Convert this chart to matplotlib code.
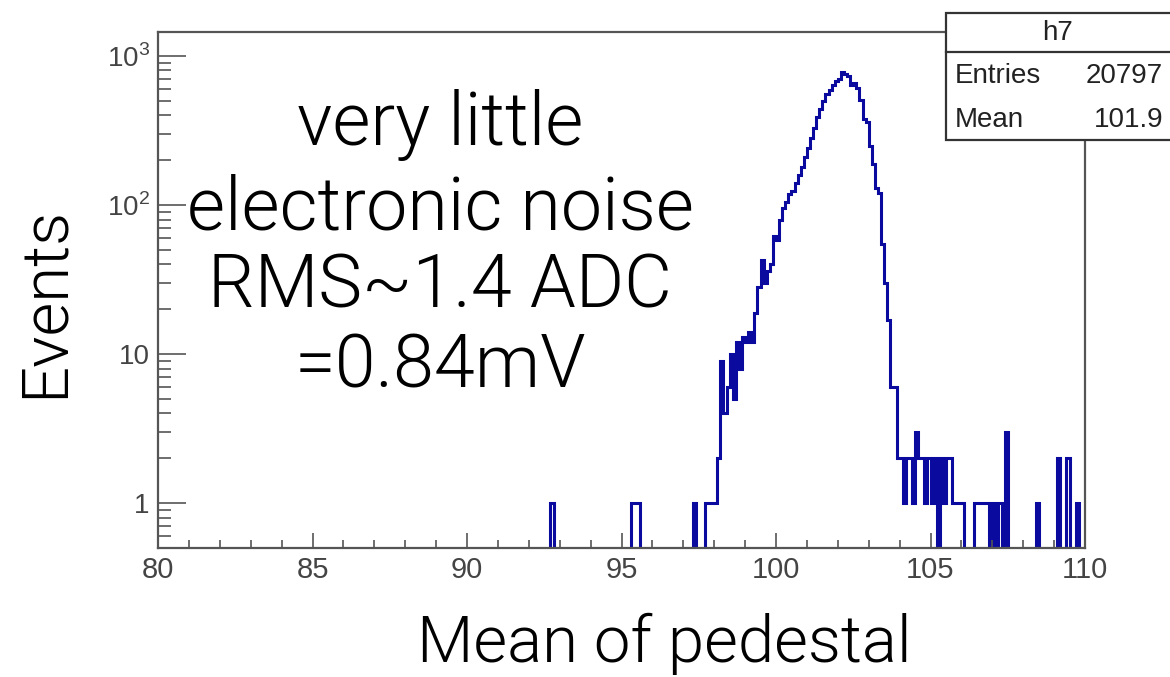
import matplotlib.pyplot as plt
import numpy as np
from matplotlib.patches import Rectangle
from matplotlib.lines import Line2D
from matplotlib.ticker import FixedLocator, FuncFormatter, LogLocator, MultipleLocator

plt.rcParams['mathtext.fontset'] = 'custom'
plt.rcParams['mathtext.rm'] = 'Liberation Sans'

# histogram h7: 300 bins of width 0.1 between 80 and 110
x_min, x_max, bin_width = 80.0, 110.0, 0.1

# isolated entries below the main peak (lower bin edge, counts)
low_bins = [92.7, 95.3, 95.4, 95.5]
low_counts = [1, 1, 1, 1]

# main peak, one value per bin starting at 97.0
core_start = 97.0
core_counts = [
    0, 0, 0, 1, 0, 0, 0, 1, 1, 1,            # 97.0 - 97.9
    1, 2, 9, 4, 6, 10, 5, 12, 8, 13,         # 98.0 - 98.9
    12, 14, 12, 19, 28, 43, 30, 36, 40, 62,  # 99.0 - 99.9
    58, 80, 95, 105, 118, 125, 140, 160, 180, 210,  # 100.0 - 100.9
    240, 280, 330, 390, 440, 500, 560, 590, 640, 680,  # 101.0 - 101.9
    700, 780, 760, 740, 640, 660, 610, 510, 380, 360,  # 102.0 - 102.9
    250, 190, 130, 120, 55, 30, 17, 6, 6, 2,  # 103.0 - 103.9
    2,                                       # 104.0
]

# sparse tail above the peak (lower bin edge, counts)
tail_bins = [104.1, 104.2, 104.3, 104.4, 104.5, 104.6, 104.7, 104.8, 104.9,
             105.0, 105.1, 105.3, 105.4, 105.5, 105.6, 105.7, 105.8, 105.9,
             106.0, 106.4, 106.5, 106.6, 106.7, 106.8, 107.0, 107.2, 107.4,
             108.4, 109.1, 109.4, 109.7]
tail_counts = [1, 2, 2, 1, 3, 2, 2, 1, 2,
               1, 2, 2, 1, 2, 2, 1, 1, 1,
               1, 1, 1, 1, 1, 1, 1, 1, 3,
               1, 2, 2, 1]

n_entries = 20797
mean_value = 101.9

y_ticks = [1, 10, 100, 1000]
y_tick_labels = ['1', '10', '$10^{2}$', '$10^{3}$']


def build_counts():
    n_bins = int(round((x_max - x_min) / bin_width))
    counts = np.zeros(n_bins)
    for edge, c in zip(low_bins + tail_bins, low_counts + tail_counts):
        counts[int(round((edge - x_min) / bin_width))] = c
    i0 = int(round((core_start - x_min) / bin_width))
    counts[i0:i0 + len(core_counts)] = core_counts
    edges = x_min + bin_width * np.arange(n_bins + 1)
    return edges, counts


def plot():
    edges, counts = build_counts()

    fig = plt.figure(figsize=(11.7, 6.77), dpi=100)
    ax = fig.add_axes([158 / 1170, 1 - 548 / 677, (1085 - 158) / 1170, (548 - 32) / 677])

    # empty bins drop below the axis like in ROOT
    shown = np.where(counts > 0, counts, 0.05)
    ax.stairs(shown, edges, color='#0a0a9e', linewidth=2.2)

    ax.set_yscale('log')
    ax.set_xlim(x_min, x_max)
    ax.set_ylim(0.5, 1450)

    ax.xaxis.set_major_locator(MultipleLocator(5))
    ax.xaxis.set_minor_locator(MultipleLocator(1))
    ax.yaxis.set_major_locator(FixedLocator(y_ticks))
    ax.yaxis.set_minor_locator(LogLocator(base=10, subs=np.arange(2, 10)))
    labels = dict(zip(y_ticks, y_tick_labels))
    ax.yaxis.set_major_formatter(FuncFormatter(lambda v, p: labels.get(int(round(v)), '')))
    ax.yaxis.set_minor_formatter(FuncFormatter(lambda v, p: ''))

    tick_col = '#555555'
    ax.tick_params(axis='x', which='major', direction='in', length=11, width=1.2,
                   color=tick_col, pad=6, labelsize=21, labelcolor='#444444')
    ax.tick_params(axis='x', which='minor', direction='in', length=6, width=1.2, color=tick_col)
    ax.tick_params(axis='y', which='major', direction='in', length=20, width=1.2,
                   color=tick_col, pad=6, labelsize=20, labelcolor='#444444')
    ax.tick_params(axis='y', which='minor', direction='in', length=9, width=1.2, color=tick_col)
    for lab in ax.get_xticklabels() + ax.get_yticklabels():
        lab.set_fontfamily('Liberation Sans')
    for s in ax.spines.values():
        s.set_color('#555555')
        s.set_linewidth(1.6)

    # stats box (runs off the right edge of the picture)
    box_l, box_t, box_sep, box_b = 946, 13, 52, 140
    fig.add_artist(Rectangle((box_l / 1170, 1 - box_b / 677), (1200 - box_l) / 1170,
                             (box_b - box_t) / 677, transform=fig.transFigure,
                             facecolor='white', edgecolor='#333333', linewidth=1.6, zorder=5))
    fig.add_artist(Line2D([box_l / 1170, 1.0], [1 - box_sep / 677] * 2, transform=fig.transFigure,
                          color='#333333', linewidth=1.6, zorder=6))
    st = dict(family='Liberation Sans', fontsize=20, color='#222222', zorder=7, va='center')
    fig.text(1058 / 1170, 1 - 33 / 677, 'h7', ha='center', **st)
    fig.text(955 / 1170, 1 - 76 / 677, 'Entries', ha='left', **st)
    fig.text(1163 / 1170, 1 - 76 / 677, f'{n_entries}', ha='right', **st)
    fig.text(955 / 1170, 1 - 120 / 677, 'Mean', ha='left', **st)
    fig.text(1163 / 1170, 1 - 120 / 677, f'{mean_value:.1f}', ha='right', **st)

    # slide annotations
    big = dict(family=['Roboto', 'DejaVu Sans'], fontweight=300, color='black')
    note = ['very little', 'electronic noise', 'RMS~1.4 ADC', '=0.84mV']
    for line, base in zip(note, [145, 230, 307, 388]):
        fig.text(440 / 1170, 1 - base / 677, line, ha='center', va='baseline', fontsize=53, **big)
    fig.text(45 / 1170, 1 - 302 / 677, 'Events', rotation=90, ha='center', va='center',
             fontsize=47, **big)
    fig.text(664 / 1170, 1 - 662 / 677, 'Mean of pedestal', ha='center', va='baseline',
             fontsize=47, **big)

    fig.savefig('out.png', dpi=100)


def main():
    plot()


if __name__ == "__main__":
    main()
